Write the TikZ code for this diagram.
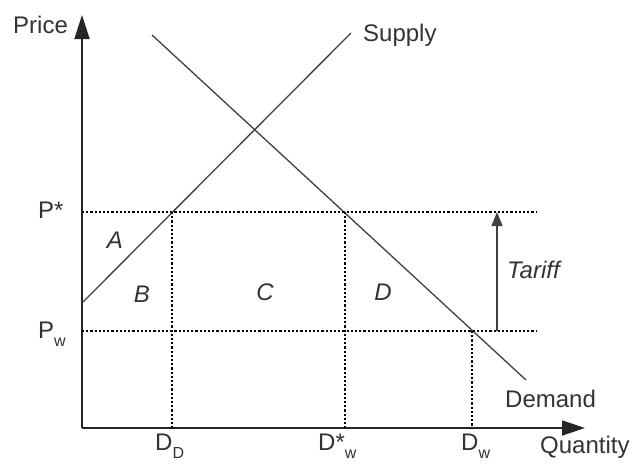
\documentclass[tikz,border=0pt]{standalone}
\usepackage{fontspec}
\setmainfont{Liberation Sans}
\usetikzlibrary{arrows.meta}

\newcommand{\lowsub}[1]{\raisebox{-8pt}{\fontsize{16}{16}\selectfont #1}}

\begin{document}
\begin{tikzpicture}[
            x=1pt, y=-1pt,
            axis/.style={line width=1.8pt, draw=black!85},
            curve/.style={line width=1.3pt, draw=black!75},
            guide/.style={line width=2.4pt, draw=black, dash pattern=on 2.2pt off 2pt},
            lbl/.style={inner sep=0pt, anchor=base west, font=\fontsize{24}{28}\selectfont, text=black!80},
            area/.style={inner sep=0pt, font=\fontsize{24}{28}\selectfont\itshape, text=black!80}
        ]
            \useasboundingbox (0,0) rectangle (639,463);

            % axes
            \coordinate (origin) at (82,428);
            \coordinate (ytop) at (82,15);
            \coordinate (xend) at (585,428);
            \draw [axis, -{Triangle[length=24pt, width=15pt]}] (origin) -- (ytop);
            \draw [axis, -{Triangle[length=23pt, width=15pt]}] (origin) -- (xend);

            % supply and demand
            \coordinate (sup0) at (82,303);
            \coordinate (sup1) at (351,33);
            \coordinate (dem0) at (152,35);
            \coordinate (dem1) at (526,380);
            \draw [curve] (sup0) -- (sup1);
            \draw [curve] (dem0) -- (dem1);

            % price levels
            \coordinate (pstar) at (82,212);
            \coordinate (pw) at (82,331);
            \coordinate (pstarend) at (537,212);
            \coordinate (pwend) at (537,331);
            \draw [guide] (pstar) -- (pstarend);
            \draw [guide] (pw) -- (pwend);

            % quantities
            \coordinate (qd) at (172,212);
            \coordinate (qdstar) at (345,212);
            \coordinate (qw) at (472,331);
            \draw [guide] (qd) -- (qd |- origin);
            \draw [guide] (qdstar) -- (qdstar |- origin);
            \draw [guide] (qw) -- (qw |- origin);

            % tariff
            \coordinate (tbot) at (497,331);
            \coordinate (ttop) at (497,212);
            \draw [curve, -{Triangle[length=14pt, width=11pt]}] (tbot) -- (ttop);

            % labels
            \node [lbl] (price) at (13,33) {Price};
            \node [lbl] (quantity) at (540,453) {Quantity};
            \node [lbl] (supply) at (363,41) {Supply};
            \node [lbl] (demand) at (505,407) {Demand};
            \node [lbl] (pstarlbl) at (38,218) {P*};
            \node [lbl] (pwlbl) at (38,338) {P\lowsub{w}};
            \node [lbl] (qdlbl) at (155,450) {D\lowsub{D}};
            \node [lbl] (qdstarlbl) at (318,450) {D*\lowsub{w}};
            \node [lbl] (qwlbl) at (461,450) {D\lowsub{w}};
            \node [lbl, font=\fontsize{24}{28}\selectfont\itshape] (tariff) at (507,278) {Tariff};

            \node [area] (areaA) at (115,240) {A};
            \node [area] (areaB) at (142,294) {B};
            \node [area] (areaC) at (265,292) {C};
            \node [area] (areaD) at (383,292) {D};
        \end{tikzpicture}
\end{document}
